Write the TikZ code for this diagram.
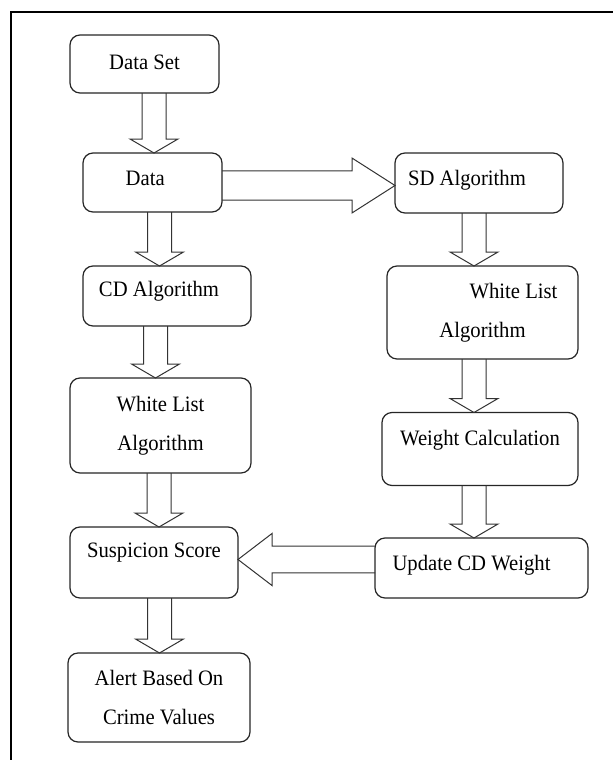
\documentclass[tikz,border=0pt]{standalone}
\usepackage{fontspec}
\setmainfont{Liberation Serif}[FakeStretch=0.94]
\usepackage{tikz}
\usetikzlibrary{calc}

\tikzset{
    box/.style={draw=black!85, line width=0.9pt, rounded corners=7.5pt, fill=white,
        inner sep=0pt, outer sep=0pt, align=center,
        font=\fontsize{16.5}{29.25}\selectfont},
    oneline/.style={text height=11pt, text depth=#1},
    blockline/.style={draw=black!80, line width=0.75pt, line join=miter}
}

\newcommand{\blockarrow}[5]{%
    \coordinate (ba) at ($(#2)!#5!(#1)$);
    \draw [blockline] ($(#1)!#3!90:(#2)$) -- ($(ba)!#3!90:(#2)$) -- ($(ba)!#4!90:(#2)$)
        -- (#2) -- ($(ba)!#4!-90:(#2)$) -- ($(ba)!#3!-90:(#2)$) -- ($(#1)!#3!-90:(#2)$);
}
\newcommand{\vblock}[3]{%
    \coordinate (va) at (#1,0);
    \coordinate (vs) at (va |- #2.south);
    \coordinate (vt) at (va |- #3.north);
    \blockarrow{vs}{vt}{9pt}{18pt}{10.5pt}
}

\begin{document}
\begin{tikzpicture}[x=0.75pt, y=-0.75pt]
        \useasboundingbox (0,0) rectangle (613,760);
        \draw [line width=1.5pt] (11,760) -- (11,12) -- (613,12);

        \node [box, oneline=3.5pt, minimum width=111.75pt, minimum height=43.5pt] (dataset) at (144.5,64) {Data Set};
        \node [box, oneline=7pt, minimum width=104.25pt, minimum height=44.25pt] (data) at (152.5,182.5) {Data\hspace*{11pt}};
        \node [box, oneline=7pt, minimum width=126pt, minimum height=45pt] (sdalg) at (479,183) {SD Algorithm\hspace*{18pt}};
        \node [box, oneline=11pt, minimum width=126pt, minimum height=45pt] (cdalg) at (167,296) {CD Algorithm\hspace*{12pt}};
        \node [box, minimum width=143.25pt, minimum height=69.75pt] (wlright) at (482.5,312.5) {\hspace*{46.5pt}White List\\Algorithm};
        \node [box, minimum width=135.75pt, minimum height=71.25pt] (wlleft) at (160.5,425.5) {White List\\Algorithm};
        \node [box, oneline=17pt, minimum width=147pt, minimum height=54.75pt] (weight) at (480,449) {Weight Calculation};
        \node [box, oneline=19pt, minimum width=126pt, minimum height=53.25pt] (score) at (154,562.5) {Suspicion Score};
        \node [box, oneline=8pt, minimum width=159.75pt, minimum height=45pt] (update) at (481.5,568) {Update CD Weight\hspace*{15pt}};
        \node [box, minimum width=136.5pt, minimum height=66.75pt] (alert) at (159,697.5) {Alert Based On\\Crime Values};

        \vblock{154}{dataset}{data}
        \vblock{159.5}{data}{cdalg}
        \vblock{155.5}{cdalg}{wlleft}
        \vblock{159}{wlleft}{score}
        \vblock{159.5}{score}{alert}
        \vblock{474}{sdalg}{wlright}
        \vblock{474}{wlright}{weight}
        \vblock{474}{weight}{update}

        \coordinate (hy1) at (0,185.5);
        \coordinate (hy2) at (0,559.5);
        \blockarrow{data.east |- hy1}{sdalg.west |- hy1}{10.9pt}{20.6pt}{32.25pt}
        \blockarrow{update.west |- hy2}{score.east |- hy2}{10.1pt}{19.5pt}{25.5pt}
\end{tikzpicture}
\end{document}
